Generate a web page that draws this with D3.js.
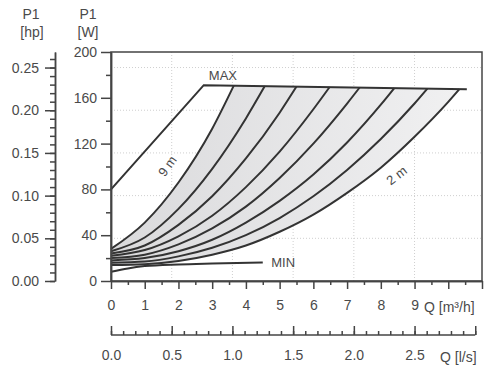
<!DOCTYPE html>
<html>
<head>
<meta charset="utf-8">
<script src="https://cdn.jsdelivr.net/npm/d3@7"></script>
<style>
  body { margin: 0; background: #fff; }
  svg text { font-family: "Liberation Sans", Arial, sans-serif; fill: #4a4a4a; }
</style>
</head>
<body>
<svg id="chart" width="487" height="376"></svg>
<script>
// pump curves: [Q m3/h, P1 W]
var curve9m = [[0, 28], [1, 51], [2, 86], [3, 133], [3.64, 170.6]];
var curve8m = [[0, 26], [1, 38], [2, 63], [3, 98], [4, 142], [4.56, 170.2]];
var curve7m = [[0, 24], [1, 31], [2, 49], [3, 74], [4, 107], [5, 147], [5.5, 169.8]];
var curve6m = [[0, 22], [1, 27], [2, 39], [3, 57], [4, 82], [5, 113], [6, 150], [6.48, 169.3]];
var curve5m = [[0, 20], [1, 23], [2, 32], [3, 46], [4, 65], [5, 90], [6, 120], [7, 155], [7.37, 168.9]];
var curve4m = [[0, 18], [1, 20], [2, 26], [3, 36], [4, 51], [5, 70], [6, 93], [7, 121], [8, 154], [8.4, 168.5]];
var curve3m = [[0, 16], [1, 17], [2, 21.5], [3, 29], [4, 40], [5, 55], [6, 74], [7, 97], [8, 124], [9, 155], [9.38, 168]];
var curve2m = [[0, 14], [1, 14.7], [2, 17.5], [3, 23], [4, 31], [5, 43], [6, 58], [7, 77], [8, 99], [9, 126], [10, 156.5], [10.33, 167.6]];
var maxLine = [[0, 80], [2.75, 171], [10.55, 167.5]];
var minLine = [[0, 8], [0.5, 11], [1, 13], [2, 14.5], [3, 15.3], [4.5, 16.2]];

var qTicks = [0, 1, 2, 3, 4, 5, 6, 7, 8, 9];
var lsTicks = [0, 0.5, 1, 1.5, 2, 2.5];
var wTicks = [0, 40, 80, 120, 160, 200];
var hpTicks = [0, 0.05, 0.1, 0.15, 0.2, 0.25];

var svg = d3.select('#chart');

var x = d3.scaleLinear().domain([0, 11]).range([111, 482]);
var y = d3.scaleLinear().domain([0, 200]).range([281, 52]);
var yHp = d3.scaleLinear().domain([0, 200 / 745.7]).range([281, 52]);
var xLs = d3.scaleLinear().domain([0, 11 / 3.6]).range([111, 482]);

var defs = svg.append('defs');
var grad = defs.append('linearGradient').attr('id', 'shade')
  .attr('gradientUnits', 'userSpaceOnUse')
  .attr('x1', 112).attr('x2', 470).attr('y1', 0).attr('y2', 0);
grad.append('stop').attr('offset', 0).attr('stop-color', '#dadadc');
grad.append('stop').attr('offset', 1).attr('stop-color', '#f1f1f2');

// faint dotted grid
var grid = svg.append('g').attr('stroke', '#cfcfcf').attr('stroke-dasharray', '1,2').attr('stroke-width', 1);
grid.selectAll('.gv').data(lsTicks.slice(1)).enter().append('line')
  .attr('x1', function(d) { return xLs(d); }).attr('x2', function(d) { return xLs(d); })
  .attr('y1', y(200)).attr('y2', y(0));
grid.selectAll('.gh').data(hpTicks.slice(1)).enter().append('line')
  .attr('x1', x(0)).attr('x2', x(11))
  .attr('y1', function(d) { return yHp(d); }).attr('y2', function(d) { return yHp(d); });

var line = d3.line()
  .x(function(d) { return x(d[0]); })
  .y(function(d) { return y(d[1]); })
  .curve(d3.curveMonotoneX);

// shaded band between 9 m and 2 m
svg.append('path')
  .attr('d', line(curve9m) + 'L' + line(curve2m.slice().reverse()).slice(1) + 'Z')
  .attr('fill', 'url(#shade)');

var curves = [curve9m, curve8m, curve7m, curve6m, curve5m, curve4m, curve3m, curve2m];
svg.append('g').selectAll('path').data(curves).enter().append('path')
  .attr('d', line)
  .attr('fill', 'none').attr('stroke', '#333').attr('stroke-width', 2);

svg.append('path').attr('d', d3.line().x(function(d) { return x(d[0]); }).y(function(d) { return y(d[1]); })(maxLine))
  .attr('fill', 'none').attr('stroke', '#333').attr('stroke-width', 2);
svg.append('path').attr('d', line(minLine))
  .attr('fill', 'none').attr('stroke', '#333').attr('stroke-width', 2);

// frame
svg.append('rect').attr('x', x(0)).attr('y', y(200))
  .attr('width', x(11) - x(0)).attr('height', y(0) - y(200))
  .attr('fill', 'none').attr('stroke', '#444').attr('stroke-width', 1.5);

function styleAxis(g) {
  g.selectAll('path').attr('stroke', '#444').attr('stroke-width', 1.5);
  g.selectAll('line').attr('stroke', '#444').attr('stroke-width', 1.5);
  g.selectAll('text').attr('font-size', 14).style('fill', '#4a4a4a')
    .attr('font-family', '"Liberation Sans", Arial, sans-serif');
}

// W axis
svg.append('g').attr('transform', 'translate(' + x(0) + ',0)')
  .call(d3.axisLeft(y).tickValues([20, 60, 100, 140, 180]).tickSize(5).tickSizeOuter(0).tickFormat(''))
  .call(styleAxis);
svg.append('g').attr('transform', 'translate(' + x(0) + ',0)')
  .call(d3.axisLeft(y).tickValues(wTicks).tickSize(10).tickSizeOuter(0).tickPadding(4).tickFormat(d3.format('d')))
  .call(styleAxis);

// hp axis
svg.append('g').attr('transform', 'translate(55,0)')
  .call(d3.axisLeft(yHp).tickValues(d3.range(0, 0.265, 0.01)).tickSize(5).tickSizeOuter(0).tickFormat(''))
  .call(styleAxis);
svg.append('g').attr('transform', 'translate(55,0)')
  .call(d3.axisLeft(yHp).tickValues(hpTicks).tickSize(10).tickSizeOuter(0).tickPadding(6).tickFormat(d3.format('.2f')))
  .call(styleAxis);

// Q m3/h axis
svg.append('g').attr('transform', 'translate(0,' + y(0) + ')')
  .call(d3.axisBottom(x).tickValues(d3.range(0.5, 11, 1)).tickSize(4).tickSizeOuter(0).tickFormat(''))
  .call(styleAxis);
svg.append('g').attr('transform', 'translate(0,' + y(0) + ')')
  .call(d3.axisBottom(x).tickValues(d3.range(0, 12, 1)).tickSize(8).tickSizeOuter(0).tickPadding(11)
    .tickFormat(function(d) { return qTicks.indexOf(d) >= 0 ? d : ''; }))
  .call(styleAxis);

// Q l/s axis
var lsY = 335;
var lsAxis = svg.append('g').attr('transform', 'translate(0,' + lsY + ')');
lsAxis.call(d3.axisBottom(xLs).tickValues(d3.range(0, 3.01, 0.1)).tickSize(-4).tickSizeOuter(0).tickFormat(''))
  .call(styleAxis);
lsAxis.select('.domain').attr('d', 'M' + xLs(0) + ',0H' + xLs(3));
var lsMajor = svg.append('g').attr('transform', 'translate(0,' + lsY + ')');
lsMajor.call(d3.axisBottom(xLs).tickValues([0, 0.5, 1, 1.5, 2, 2.5, 3]).tickSize(-9).tickSizeOuter(0).tickPadding(15)
    .tickFormat(function(d) { return lsTicks.indexOf(d) >= 0 ? d3.format('.1f')(d) : ''; }))
  .call(styleAxis);
lsMajor.select('.domain').remove();

// titles and labels
function label(t, px, py, anchor, size) {
  return svg.append('text').attr('x', px).attr('y', py).attr('text-anchor', anchor || 'middle')
    .attr('font-size', size || 14).text(t);
}
label('P1', 31, 19);
label('[hp]', 32, 37);
label('P1', 88, 19);
label('[W]', 88, 37);
label('Q [m\u00b3/h]', 424, 312, 'start');
label('Q [l/s]', 440, 362, 'start');
label('MAX', x(2.9), 80, 'start', 13);
label('MIN', x(4.75), 267, 'start', 13);

svg.append('text').attr('font-size', 13).attr('text-anchor', 'middle')
  .attr('transform', 'translate(' + x(1.78) + ',' + y(98) + ') rotate(-54)').text('9 m');
svg.append('text').attr('font-size', 13).attr('text-anchor', 'middle')
  .attr('transform', 'translate(' + x(8.55) + ',' + y(89) + ') rotate(-38)').text('2 m');
</script>
</body>
</html>
